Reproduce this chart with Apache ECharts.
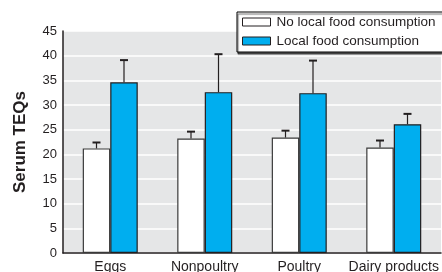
<!DOCTYPE html>
<html><head><meta charset="utf-8">
<script src="https://cdn.jsdelivr.net/npm/echarts@6/dist/echarts.min.js"></script>
<style>html,body{margin:0;padding:0;background:#fff}#c{width:442px;height:272px}</style>
</head><body><div id="c"></div>
<script>
const categories = ['Eggs', 'Nonpoultry', 'Poultry', 'Dairy products'];
const seriesNames = ['No local food consumption', 'Local food consumption'];
const noLocal = [21.2, 23.2, 23.4, 21.4];
const noLocalErrTop = [22.4, 24.6, 24.8, 22.8];
const local = [34.6, 32.6, 32.4, 26.1];
const localErrTop = [39.1, 40.3, 39.0, 28.2];
const yTicks = [0, 5, 10, 15, 20, 25, 30, 35, 40, 45];

const FONT = '"Liberation Sans", Arial, sans-serif';
const BAR_W = 27.5;

function errSeries(vals, tops, sign) {
  return {
    type: 'custom',
    silent: true,
    z: 5,
    data: vals.map((v, i) => [i, v, tops[i]]),
    renderItem: function (params, api) {
      const base = api.coord([api.value(0), api.value(1)]);
      const top = api.coord([api.value(0), api.value(2)]);
      const x = base[0] + sign * BAR_W / 2;
      return {
        type: 'group',
        children: [
          { type: 'line', shape: { x1: x, y1: base[1], x2: x, y2: top[1] },
            style: { stroke: '#231f20', lineWidth: 1.2 } },
          { type: 'line', shape: { x1: x - 4, y1: top[1], x2: x + 4, y2: top[1] },
            style: { stroke: '#231f20', lineWidth: 2 } }
        ]
      };
    }
  };
}

const chart = echarts.init(document.getElementById('c'));
chart.setOption({
  animation: false,
  textStyle: { fontFamily: FONT },
  grid: { left: 63, right: 1, top: 31, bottom: 19, show: true, backgroundColor: '#e5e6e7', borderWidth: 0,
          containLabel: false, outerBoundsMode: 'none' },
  graphic: [{
    type: 'rect', z: 10,
    shape: { x: 237, y: 12, width: 215, height: 40 },
    style: { fill: '#fff', stroke: '#000', lineWidth: 1, shadowColor: 'rgba(0,0,0,0.6)', shadowOffsetX: 1, shadowOffsetY: 2, shadowBlur: 1 }
  }],
  legend: {
    z: 11,
    orient: 'vertical',
    left: 242, top: 15,
    padding: 0,
    itemGap: 5,
    itemWidth: 28, itemHeight: 8,
    icon: 'rect',
    data: seriesNames,
    textStyle: { fontFamily: FONT, fontSize: 13.5, color: '#231f20', padding: [0, 0, 0, 1] },
    itemStyle: { borderColor: '#231f20', borderWidth: 1 }
  },
  xAxis: {
    type: 'category',
    data: categories,
    axisLine: { lineStyle: { color: '#231f20', width: 1.5 } },
    axisTick: { show: false },
    axisLabel: { interval: 0, fontFamily: FONT, fontSize: 14, color: '#231f20', margin: 7 }
  },
  yAxis: {
    type: 'value',
    min: yTicks[0], max: yTicks[yTicks.length - 1], interval: 5,
    name: 'Serum TEQs',
    nameLocation: 'middle',
    nameGap: 34,
    nameTextStyle: { fontFamily: FONT, fontSize: 17, fontWeight: 'bold', color: '#231f20' },
    axisLine: { show: true, lineStyle: { color: '#231f20', width: 1.5 } },
    axisTick: { show: false },
    axisLabel: { fontFamily: FONT, fontSize: 13, color: '#231f20', margin: 6 },
    splitLine: { lineStyle: { color: '#ffffff', width: 1.5 } }
  },
  series: [
    { name: seriesNames[0], type: 'bar', data: noLocal, barWidth: BAR_W, barGap: '0%',
      itemStyle: { color: '#ffffff', borderColor: '#3a3a3a', borderWidth: 1.2 } },
    { name: seriesNames[1], type: 'bar', data: local, barWidth: BAR_W, barGap: '0%',
      itemStyle: { color: '#00aeef', borderColor: '#231f20', borderWidth: 1.2 } },
    errSeries(noLocal, noLocalErrTop, -1),
    errSeries(local, localErrTop, 1)
  ]
});
</script></body></html>
